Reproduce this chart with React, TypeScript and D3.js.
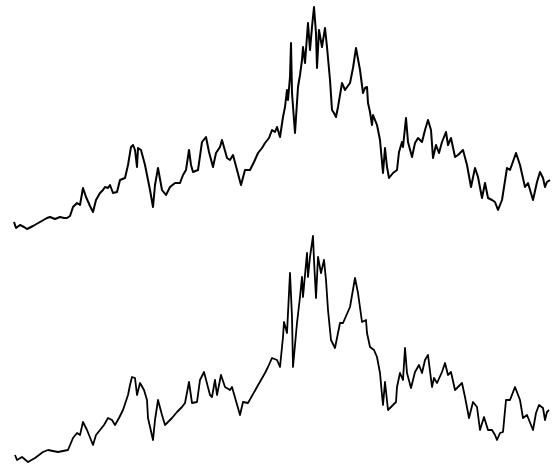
import * as React from 'react';
import * as d3 from 'd3';

// [step, level] pairs
const upperSeries: Array<[number, number]> = [
  [0, 8], [2, 2], [6, 5], [10, 3], [13, 1], [19, 4], [26, 8], [33, 12], [36, 13], [41, 11],
  [46, 13], [50, 12], [53, 12], [56, 14], [59, 23], [63, 27], [66, 25], [69, 42], [72, 33], [76, 24],
  [79, 18], [82, 30], [86, 37], [89, 40], [91, 43], [94, 42], [96, 45], [99, 37], [103, 38], [106, 50],
  [111, 52], [114, 65], [117, 83], [119, 85], [121, 80], [123, 63], [124, 82], [127, 80], [131, 65], [136, 40],
  [139, 23], [141, 45], [144, 62], [148, 40], [152, 35], [156, 43], [161, 47], [166, 47], [169, 55], [172, 60],
  [175, 80], [177, 65], [179, 58], [184, 60], [188, 88], [192, 93], [195, 78], [199, 63], [202, 77], [206, 83],
  [208, 90], [213, 72], [216, 70], [219, 75], [223, 60], [227, 45], [231, 60], [236, 60], [240, 68], [244, 77],
  [248, 82], [251, 87], [255, 92], [258, 100], [261, 98], [263, 103], [266, 93], [269, 113], [271, 123], [273, 140],
  [274, 130], [276, 153], [277, 187], [278, 137], [281, 97], [284, 143], [286, 155], [288, 170], [289, 183], [291, 167],
  [294, 207], [296, 180], [298, 203], [300, 223], [302, 197], [303, 162], [305, 200], [308, 183], [311, 202], [313, 183],
  [316, 150], [318, 120], [320, 117], [322, 113], [324, 123], [328, 147], [331, 140], [336, 147], [339, 162], [342, 182],
  [346, 160], [349, 137], [351, 142], [353, 143], [354, 127], [356, 118], [358, 105], [359, 115], [363, 105], [366, 90],
  [369, 57], [371, 82], [373, 63], [375, 52], [379, 57], [383, 60], [385, 78], [388, 88], [389, 83], [392, 112],
  [394, 88], [398, 73], [401, 87], [404, 92], [408, 88], [411, 100], [414, 110], [417, 100], [419, 72], [422, 85],
  [425, 77], [428, 88], [432, 98], [434, 85], [437, 92], [441, 73], [444, 75], [449, 80], [453, 65], [457, 43],
  [461, 62], [464, 53], [468, 32], [471, 47], [474, 32], [478, 30], [481, 28], [484, 20], [488, 30], [493, 62],
  [496, 60], [502, 77], [506, 65], [511, 43], [514, 47], [519, 30], [523, 48], [526, 58], [529, 52], [531, 43],
  [533, 48], [536, 50],
];

// [step, level] pairs
const lowerSeries: Array<[number, number]> = [
  [1, 7], [3, 2], [8, 5], [14, 0], [21, 4], [29, 10], [34, 12], [44, 10], [54, 12], [59, 24],
  [63, 29], [66, 27], [69, 40], [73, 32], [79, 17], [82, 27], [86, 32], [90, 37], [94, 44], [98, 42],
  [101, 37], [105, 44], [109, 52], [114, 67], [116, 77], [118, 85], [121, 84], [123, 67], [126, 79], [130, 72],
  [133, 62], [134, 44], [139, 22], [141, 42], [144, 62], [148, 47], [151, 37], [158, 44], [163, 50], [168, 55],
  [171, 59], [175, 80], [178, 59], [183, 60], [186, 82], [190, 90], [196, 67], [198, 65], [201, 82], [203, 67],
  [207, 87], [211, 75], [216, 72], [218, 75], [226, 47], [229, 60], [234, 59], [243, 75], [251, 89], [254, 95],
  [258, 104], [263, 102], [266, 95], [269, 125], [270, 140], [273, 129], [274, 149], [276, 189], [278, 145], [279, 95],
  [283, 139], [286, 165], [288, 185], [289, 165], [293, 209], [294, 185], [296, 205], [299, 226], [300, 202], [302, 164],
  [304, 205], [307, 189], [310, 202], [312, 182], [314, 152], [317, 122], [321, 114], [323, 124], [326, 139], [329, 139],
  [336, 155], [341, 184], [344, 169], [348, 140], [352, 142], [353, 129], [356, 115], [360, 112], [363, 105], [366, 89],
  [368, 67], [369, 57], [371, 80], [374, 52], [379, 57], [382, 60], [383, 75], [386, 89], [389, 82], [391, 114],
  [393, 89], [397, 74], [401, 90], [405, 97], [408, 89], [411, 102], [414, 107], [418, 75], [420, 84], [423, 79],
  [428, 90], [431, 99], [434, 87], [437, 90], [441, 72], [444, 75], [448, 79], [451, 65], [455, 44], [459, 60],
  [463, 55], [466, 32], [470, 45], [474, 32], [478, 32], [481, 27], [483, 22], [486, 29], [489, 30], [492, 62],
  [496, 62], [501, 75], [506, 62], [509, 44], [513, 47], [519, 32], [522, 49], [525, 57], [529, 54], [531, 42],
  [533, 50], [535, 52],
];

const width = 558;
const height = 465;

export default function App() {
  const x = d3.scaleLinear().domain([0, 536]).range([14, 550]);
  const yUpper = d3.scaleLinear().domain([0, 230]).range([230, 0]);
  const yLower = d3.scaleLinear().domain([0, 230]).range([462, 232]);

  const upperLine = d3
    .line<[number, number]>()
    .x((d) => x(d[0]))
    .y((d) => yUpper(d[1]));
  const lowerLine = d3
    .line<[number, number]>()
    .x((d) => x(d[0]))
    .y((d) => yLower(d[1]));

  return (
    <svg
      width={width}
      height={height}
      style={{ position: 'absolute', left: 0, top: 0, background: '#fff' }}
    >
      <path
        d={upperLine(upperSeries) ?? ''}
        fill="none"
        stroke="#000"
        strokeWidth={2}
        strokeLinejoin="round"
      />
      <path
        d={lowerLine(lowerSeries) ?? ''}
        fill="none"
        stroke="#000"
        strokeWidth={1.8}
        strokeLinejoin="round"
      />
    </svg>
  );
}
